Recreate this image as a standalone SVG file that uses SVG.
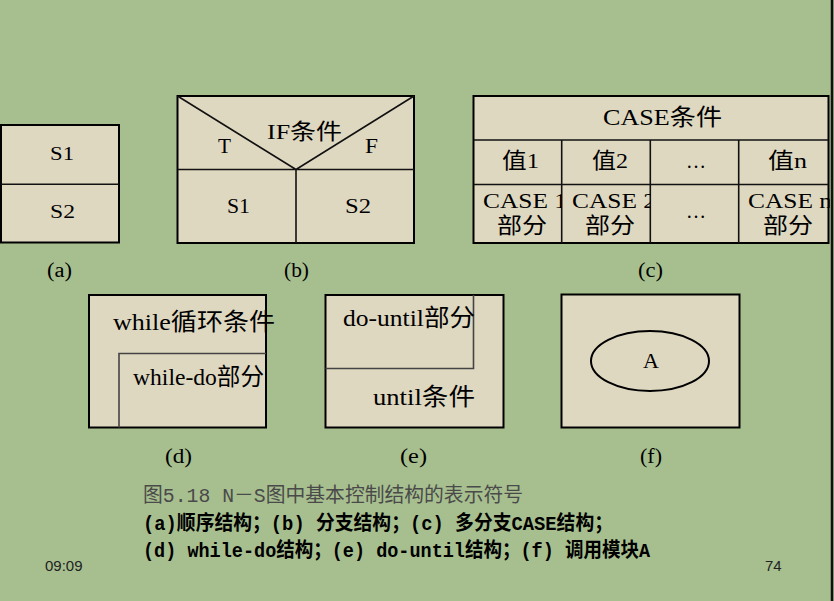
<svg xmlns="http://www.w3.org/2000/svg" width="834" height="601" viewBox="0 0 834 601">
<style>
.bg{fill:#A7BF8F}
.box{fill:#DFD8C1;stroke:#000;stroke-width:2}
.ln{fill:none;stroke:#111;stroke-width:1.6}
.gl{fill:none;stroke:#444;stroke-width:1.6}
.t{font-family:"Liberation Serif","Noto Sans CJK SC",serif;fill:#000}
.cap{font-family:"Liberation Mono","Noto Sans CJK SC",monospace;font-size:20px}
.sm{font-family:"Liberation Sans",Arial,sans-serif;font-size:15px;fill:#222}
</style>
<defs>
<clipPath id="c1"><rect x="473" y="184" width="88.7" height="59"/></clipPath>
<clipPath id="c2"><rect x="561.7" y="184" width="88.6" height="59"/></clipPath>
<clipPath id="c4"><rect x="738.7" y="184" width="91" height="59"/></clipPath>
</defs>
<rect class="bg" x="0" y="0" width="834" height="601"/>
<line x1="832" y1="0" x2="832" y2="601" stroke="#111" stroke-width="2.5"/>

<g id="node-a">
<rect class="box" x="1" y="125" width="118" height="117.5"/>
<line class="ln" x1="1" y1="184.3" x2="119" y2="184.3"/>
<text class="t" x="50" y="160" font-size="19" textLength="24" lengthAdjust="spacingAndGlyphs">S1</text>
<text class="t" x="50" y="218" font-size="19" textLength="25" lengthAdjust="spacingAndGlyphs">S2</text>
<text class="t" x="47" y="277" font-size="20" textLength="25" lengthAdjust="spacingAndGlyphs">(a)</text>
</g>

<g id="node-b">
<rect class="box" x="177.5" y="96" width="236.5" height="147"/>
<path class="ln" d="M177.5,96 L296,169.5 L414,96 M177.5,169.5 H414 M296,169.5 V243"/>
<text class="t" x="267" y="139" font-size="22" textLength="75" lengthAdjust="spacingAndGlyphs">IF条件</text>
<text class="t" x="218" y="153" font-size="21" textLength="13" lengthAdjust="spacingAndGlyphs">T</text>
<text class="t" x="365" y="153" font-size="21" textLength="13" lengthAdjust="spacingAndGlyphs">F</text>
<text class="t" x="227" y="213" font-size="20" textLength="23" lengthAdjust="spacingAndGlyphs">S1</text>
<text class="t" x="345" y="213" font-size="20" textLength="26" lengthAdjust="spacingAndGlyphs">S2</text>
<text class="t" x="284" y="277" font-size="20" textLength="25" lengthAdjust="spacingAndGlyphs">(b)</text>
</g>

<g id="node-c">
<rect class="box" x="473.5" y="96" width="355" height="147"/>
<path class="ln" d="M473.5,140 H828.5 M473.5,184.5 H828.5 M561.7,140 V243 M650.3,140 V243 M738.7,140 V243"/>
<text class="t" x="603" y="125" font-size="23" textLength="119" lengthAdjust="spacingAndGlyphs">CASE条件</text>
<text class="t" x="502" y="168" font-size="22" textLength="37" lengthAdjust="spacingAndGlyphs">值1</text>
<text class="t" x="592" y="168" font-size="22" textLength="36" lengthAdjust="spacingAndGlyphs">值2</text>
<text class="t" x="686" y="168" font-size="20" textLength="20" lengthAdjust="spacingAndGlyphs">…</text>
<text class="t" x="768" y="168" font-size="22" textLength="39" lengthAdjust="spacingAndGlyphs">值n</text>
<g clip-path="url(#c1)"><text class="t" x="483" y="208" font-size="22" textLength="84" lengthAdjust="spacingAndGlyphs">CASE 1</text></g>
<text class="t" x="497" y="233" font-size="22" textLength="50" lengthAdjust="spacingAndGlyphs">部分</text>
<g clip-path="url(#c2)"><text class="t" x="572" y="208" font-size="22" textLength="84" lengthAdjust="spacingAndGlyphs">CASE 2</text></g>
<text class="t" x="585" y="233" font-size="22" textLength="50" lengthAdjust="spacingAndGlyphs">部分</text>
<text class="t" x="686" y="218" font-size="20" textLength="20" lengthAdjust="spacingAndGlyphs">…</text>
<g clip-path="url(#c4)"><text class="t" x="748" y="208" font-size="22" textLength="84" lengthAdjust="spacingAndGlyphs">CASE n</text></g>
<text class="t" x="763" y="233" font-size="22" textLength="50" lengthAdjust="spacingAndGlyphs">部分</text>
<text class="t" x="638" y="277" font-size="20" textLength="25" lengthAdjust="spacingAndGlyphs">(c)</text>
</g>

<g id="node-d">
<rect class="box" x="89" y="295" width="177" height="132.5"/>
<path class="gl" d="M119,427.5 V353.5 H266"/>
<text class="t" x="113" y="330" font-size="24" textLength="162" lengthAdjust="spacingAndGlyphs">while循环条件</text>
<text class="t" x="133" y="385" font-size="24" textLength="131" lengthAdjust="spacingAndGlyphs">while-do部分</text>
<text class="t" x="165" y="463" font-size="20" textLength="27" lengthAdjust="spacingAndGlyphs">(d)</text>
</g>

<g id="node-e">
<rect class="box" x="325.5" y="295" width="178" height="132.5"/>
<path class="gl" d="M325.5,368.5 H473.5 V295"/>
<text class="t" x="343" y="326" font-size="24" textLength="132" lengthAdjust="spacingAndGlyphs">do-until部分</text>
<text class="t" x="373" y="405" font-size="24" textLength="102" lengthAdjust="spacingAndGlyphs">until条件</text>
<text class="t" x="400" y="463" font-size="20" textLength="27" lengthAdjust="spacingAndGlyphs">(e)</text>
</g>

<g id="node-f">
<rect class="box" x="561.5" y="294.5" width="178" height="133"/>
<ellipse cx="650" cy="361" rx="59" ry="30" fill="none" stroke="#000" stroke-width="2"/>
<text class="t" x="651" y="368" font-size="22" text-anchor="middle">A</text>
<text class="t" x="640" y="463" font-size="20" textLength="22" lengthAdjust="spacingAndGlyphs">(f)</text>
</g>

<g id="connectors"></g>

<g id="caption">
<text class="cap" x="143" y="502" fill="#4a4a4a" textLength="380" lengthAdjust="spacingAndGlyphs">图5.18  N－S图中基本控制结构的表示符号</text>
<text class="cap" x="143" y="530" fill="#000" font-weight="bold" textLength="470" lengthAdjust="spacingAndGlyphs">(a)顺序结构；(b) 分支结构；(c) 多分支CASE结构；</text>
<text class="cap" x="143" y="557" fill="#000" font-weight="bold" textLength="507" lengthAdjust="spacingAndGlyphs">(d) while-do结构；(e) do-until结构；(f) 调用模块A</text>
<text class="sm" x="45" y="571">09:09</text>
<text class="sm" x="765" y="571">74</text>
</g>
</svg>
